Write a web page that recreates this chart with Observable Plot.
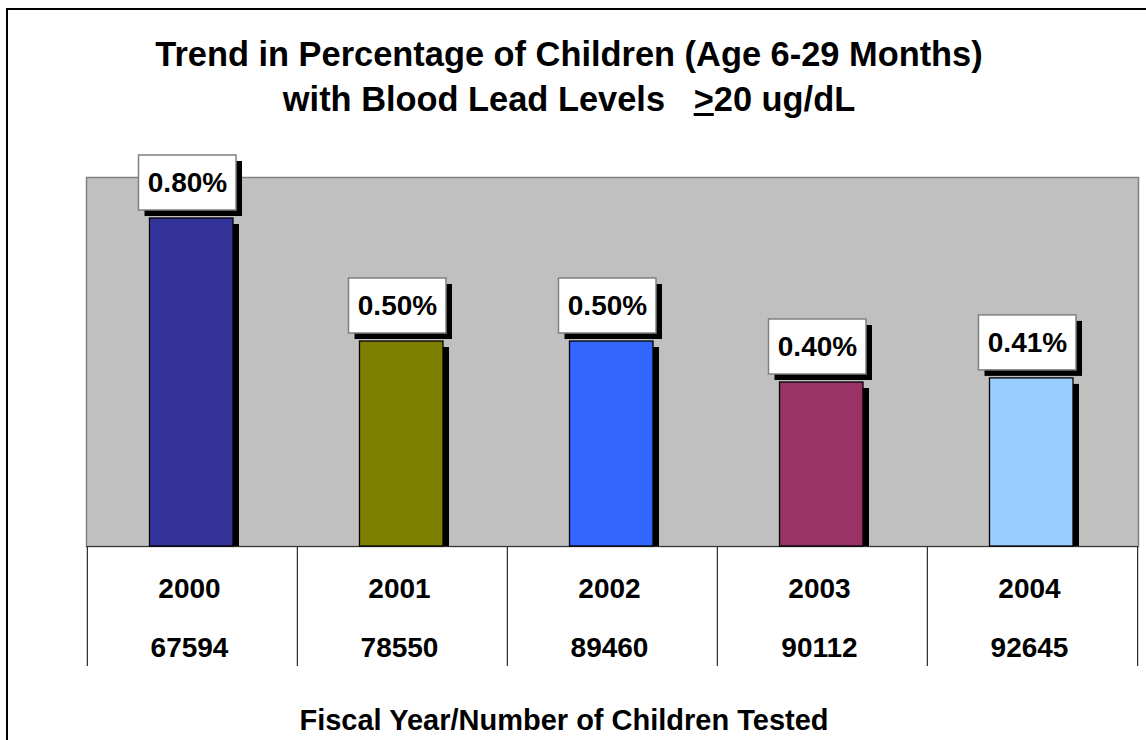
<!DOCTYPE html>
<html>
<head>
<meta charset="utf-8">
<script src="https://cdn.jsdelivr.net/npm/d3@7"></script>
<script src="https://cdn.jsdelivr.net/npm/@observablehq/plot@0.6"></script>
<style>
  html, body { margin: 0; padding: 0; background: #fff; }
  body { width: 1146px; height: 740px; position: relative; overflow: hidden;
         font-family: "Liberation Sans", Arial, sans-serif; }
  #frame { position: absolute; left: 6px; top: 8px; width: 1300px; height: 900px;
           border-left: 2px solid #000; border-top: 2px solid #000; }
  #chart { position: absolute; left: 0; top: 0; }
  .title { position: absolute; left: 0; top: 32px; width: 1138px; text-align: center;
           font-weight: bold; font-size: 34.4px; line-height: 45px; color: #000; white-space: pre; }
  .xtitle { position: absolute; left: 0; top: 706px; width: 1128px; text-align: center;
            font-weight: bold; font-size: 29px; line-height: 29px; color: #000; }
</style>
</head>
<body>
<div id="frame"></div>
<div id="chart"></div>
<div class="title">Trend in Percentage of Children (Age 6-29 Months)
with Blood Lead Levels   <span style="text-decoration: underline;">&gt;</span>20 ug/dL</div>
<div class="xtitle">Fiscal Year/Number of Children Tested</div>
<script>
// ---- data ----
const years = ["2000", "2001", "2002", "2003", "2004"];
const percentValues = [0.80, 0.50, 0.50, 0.40, 0.41];
const childrenTested = [67594, 78550, 89460, 90112, 92645];
const barColors = ["#333399", "#808000", "#3366FF", "#993366", "#99CCFF"];

const data = years.map((year, i) => ({year, value: percentValues[i], tested: childrenTested[i]}));

const W = 1146, H = 740;
const mL = 86, mR = 8, mT = 177, mB = 194;
const step = (W - mL - mR) / years.length;
const font = "Liberation Sans, Arial, sans-serif";

const chart = Plot.plot({
  width: W,
  height: H,
  marginLeft: mL,
  marginRight: mR,
  marginTop: mT,
  marginBottom: mB,
  style: {background: "transparent", fontFamily: font, overflow: "visible"},
  x: {type: "band", domain: years, padding: 0, axis: null},
  y: {domain: [0, 0.9], axis: null},
  color: {type: "ordinal", domain: years, range: barColors},
  marks: [
    Plot.frame({fill: "#C0C0C0", stroke: "#808080", strokeWidth: 1.5}),
    // table cell separators
    Plot.ruleX(years, {x: d => d, y1: 0, y2: 0, insetBottom: -120, dx: -step / 2, stroke: "#000", strokeWidth: 1}),
    Plot.ruleX(years.slice(-1), {x: d => d, y1: 0, y2: 0, insetBottom: -120, dx: step / 2, stroke: "#000", strokeWidth: 1}),
    Plot.ruleY([0], {stroke: "#333", strokeWidth: 1.2}),
    // bar shadows
    Plot.barY(data, {x: "year", y: "value", fill: "#000", dx: 6, dy: 6, insetBottom: 6, insetLeft: 62.5, insetRight: 64}),
    // bars
    Plot.barY(data, {x: "year", y: "value", fill: "year", stroke: "#000", strokeWidth: 1.3, insetLeft: 62.5, insetRight: 64}),
    // label box shadows
    Plot.barY(data, {x: "year", y1: "value", y2: "value", insetTop: -63, insetBottom: 8, insetLeft: 51.5, insetRight: 61, fill: "#000", dx: 6, dy: 6}),
    // label boxes
    Plot.barY(data, {x: "year", y1: "value", y2: "value", insetTop: -63, insetBottom: 8, insetLeft: 51.5, insetRight: 61, fill: "#fff", stroke: "#808080", strokeWidth: 1.5}),
    // value labels
    Plot.text(data, {x: "year", y: "value", text: d => d.value.toFixed(2) + "%", dx: -5, dy: -35, fontSize: 28, fontWeight: "bold", fill: "#000"}),
    // table text
    Plot.text(data, {x: "year", y: () => 0, text: "year", dx: -3, dy: 43, fontSize: 28, fontWeight: "bold", fill: "#000"}),
    Plot.text(data, {x: "year", y: () => 0, text: d => String(d.tested), dx: -3, dy: 102, fontSize: 28, fontWeight: "bold", fill: "#000"})
  ]
});
document.getElementById("chart").appendChild(chart);
</script>
</body>
</html>
